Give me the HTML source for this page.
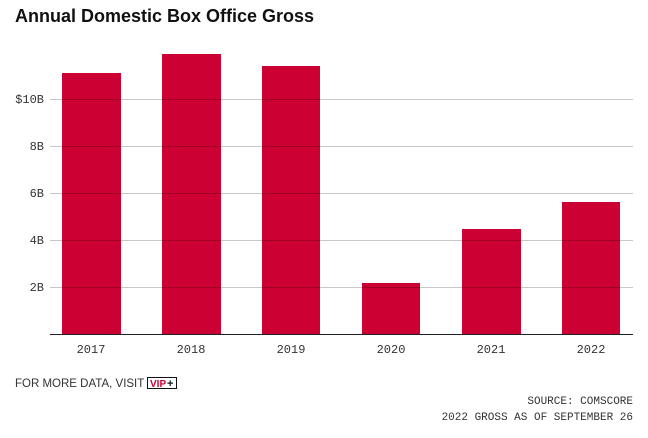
<!DOCTYPE html>
<html><head><style>
body{margin:0;background:#fff;width:648px;height:433px;overflow:hidden;font-family:"Liberation Sans",sans-serif}
</style></head><body>
<svg width="648" height="433" xmlns="http://www.w3.org/2000/svg">
<text x="15" y="22" font-family="Liberation Sans" font-weight="bold" font-size="18" fill="#111">Annual Domestic Box Office Gross</text>
<g fill="#cc0033">
<rect x="62" y="73" width="59" height="261"/>
<rect x="162" y="54" width="59" height="280"/>
<rect x="262" y="66" width="58" height="268"/>
<rect x="362" y="283" width="58" height="51"/>
<rect x="462" y="229" width="59" height="105"/>
<rect x="562" y="202" width="58" height="132"/>
</g>
<g stroke="#000" stroke-opacity="0.22" stroke-width="1">
<line x1="50" x2="633" y1="99.5" y2="99.5"/>
<line x1="50" x2="633" y1="146.5" y2="146.5"/>
<line x1="50" x2="633" y1="193.5" y2="193.5"/>
<line x1="50" x2="633" y1="240.5" y2="240.5"/>
<line x1="50" x2="633" y1="287.5" y2="287.5"/>
</g>
<line x1="50" x2="633" y1="334.5" y2="334.5" stroke="#222" stroke-width="1"/>
<g font-family="Liberation Mono" font-size="12" fill="#333" text-anchor="end">
<text x="44" y="103">$10B</text>
<text x="44" y="150">8B</text>
<text x="44" y="197">6B</text>
<text x="44" y="244">4B</text>
<text x="44" y="291">2B</text>
</g>
<g font-family="Liberation Mono" font-size="12" fill="#333" text-anchor="middle">
<text x="91" y="353">2017</text>
<text x="191" y="353">2018</text>
<text x="291" y="353">2019</text>
<text x="391" y="353">2020</text>
<text x="491" y="353">2021</text>
<text x="591" y="353">2022</text>
</g>
<text x="15" y="387" font-family="Liberation Sans" font-size="11.5" fill="#333">FOR MORE DATA, VISIT</text>
<rect x="147.5" y="377.5" width="29" height="11" fill="#fff" stroke="#111"/>
<text x="150" y="387" font-family="Liberation Sans" font-weight="bold" font-size="10" fill="#cc0033">VIP</text>
<text x="167" y="387" font-family="Liberation Sans" font-weight="bold" font-size="11" fill="#111">+</text>
<g font-family="Liberation Mono" font-size="11" fill="#333" text-anchor="end">
<text x="633" y="404">SOURCE: COMSCORE</text>
<text x="633" y="420">2022 GROSS AS OF SEPTEMBER 26</text>
</g>
</svg>
</body></html>
